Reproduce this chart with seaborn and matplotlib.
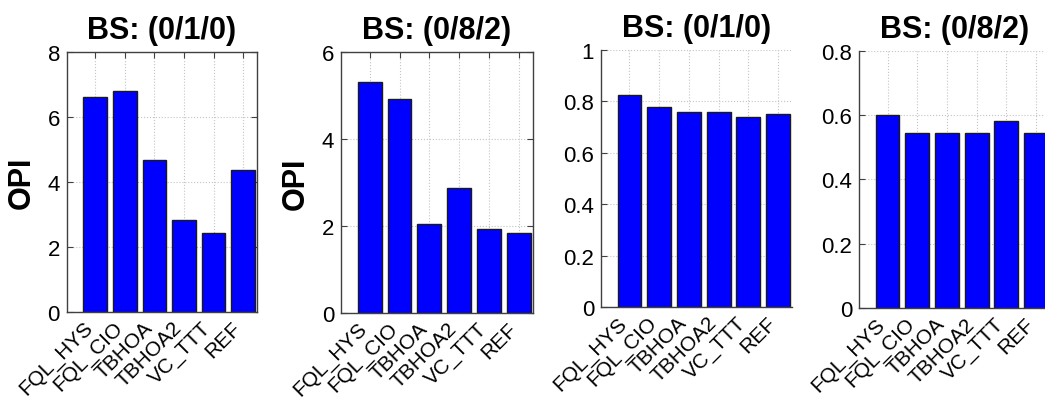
import numpy as np
import pandas as pd
import matplotlib
matplotlib.use("Agg")
import matplotlib.pyplot as plt
import matplotlib.transforms as mtrans
import seaborn as sns

# data
methods = ["FQL_HYS", "FQL_CIO", "TBHOA", "TBHOA2", "VC_TTT", "REF"]
titles = ["BS: (0/1/0)", "BS: (0/8/2)", "BS: (0/1/0)", "BS: (0/8/2)"]
opi_010 = [6.62, 6.80, 4.67, 2.84, 2.42, 4.38]
opi_082 = [5.31, 4.93, 2.05, 2.87, 1.93, 1.84]
val_010 = [0.826, 0.776, 0.757, 0.757, 0.740, 0.750]
val_082 = [0.601, 0.544, 0.544, 0.544, 0.583, 0.543]
series = [opi_010, opi_082, val_010, val_082]
ylims = [(0, 8), (0, 6), (0, 1), (0, 0.8)]
yticks = [np.arange(0, 9, 2), np.arange(0, 7, 2),
          np.round(np.arange(0, 1.01, 0.2), 1), np.round(np.arange(0, 0.81, 0.2), 1)]
ylabels = ["OPI", "OPI", "", ""]

sns.set_style("white", {"text.color": "black", "axes.labelcolor": "black",
                        "xtick.color": "black", "ytick.color": "black"})
plt.rcParams['font.family'] = ['Liberation Sans', 'DejaVu Sans']

fig = plt.figure(figsize=(10.45, 4.02), dpi=100)
# [left, bottom, width, height] of each panel
boxes = [[0.0640, 0.2214, 0.1820, 0.6468],
         [0.3263, 0.2189, 0.1838, 0.6493],
         [0.5751, 0.2331, 0.1828, 0.6408],
         [0.8220, 0.2306, 0.1828, 0.6408]]

# pull the rotated labels left so their ends sit under the bar centres
shift = mtrans.ScaledTranslation(-12 / 100, 0, fig.dpi_scale_trans)

for i in range(4):
    ax = fig.add_axes(boxes[i])
    df = pd.DataFrame({"method": methods, "value": series[i]})
    sns.barplot(data=df, x="method", y="value", color="#0000ff", saturation=1,
                edgecolor="#1a1a1a", linewidth=1.0, width=0.8, ax=ax)
    ax.grid(True, color="#c4c4c4", linestyle=":", linewidth=0.8)
    ax.xaxis.grid(True)
    ax.set_axisbelow(True)
    ax.set_xlim(-0.96, 5.47)
    ax.set_ylim(*ylims[i])
    ax.set_yticks(yticks[i])
    ax.set_yticklabels([f"{t:g}" for t in yticks[i]], fontsize=16)
    ax.set_xticks(range(len(methods)))
    ax.set_xticklabels(methods, rotation=45, ha="right", rotation_mode="anchor", fontsize=15)
    ax.tick_params(axis="both", direction="in", length=4, color="#404040", labelcolor="black",
                   left=True, right=(i < 2), top=(i < 2), bottom=True)
    ax.tick_params(axis="x", pad=4)
    ax.tick_params(axis="y", pad=5)
    for lab in ax.get_xticklabels():
        lab.set_transform(lab.get_transform() + shift)
    ax.set_xlabel("")
    ax.set_ylabel(ylabels[i], fontsize=22, fontweight="bold", labelpad=8, color="black")
    ax.set_title(titles[i], fontsize=22, fontweight="bold", pad=10, color="black")
    for side, sp in ax.spines.items():
        sp.set_color("#404040")
        sp.set_linewidth(1.0)
    if i >= 2:
        ax.spines["top"].set_visible(False)
        ax.spines["right"].set_visible(False)

fig.savefig("out.png", dpi=100)
